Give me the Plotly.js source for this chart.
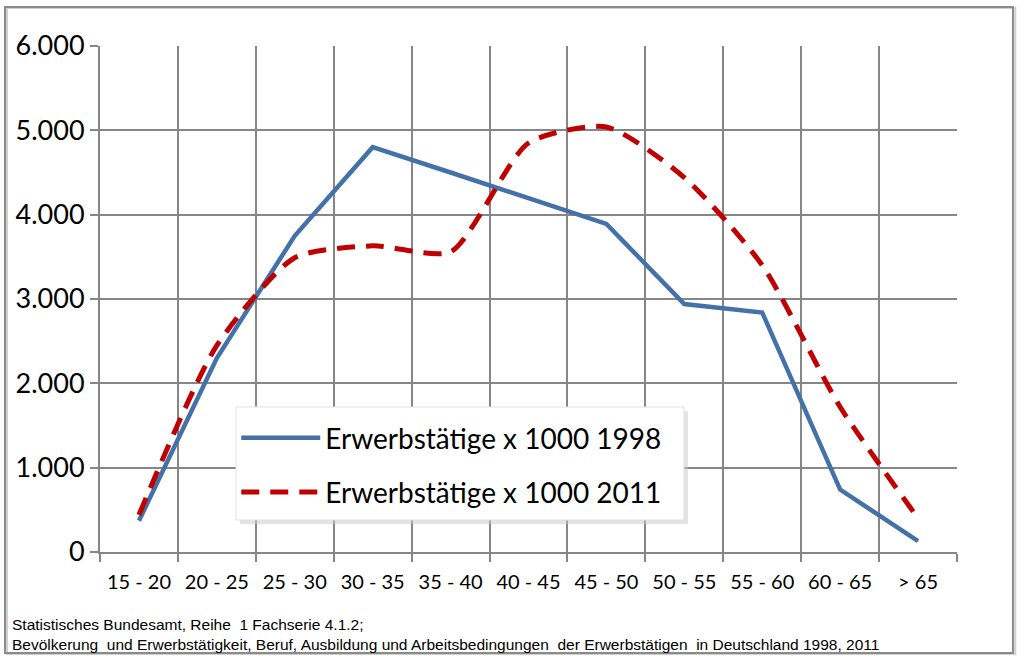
<!DOCTYPE html>
<html>
<head>
<meta charset="utf-8">
<script src="https://cdn.plot.ly/plotly-3.0.1.min.js"></script>
<style>html,body{margin:0;padding:0;background:#fff;}#chart{width:1024px;height:664px;}</style>
</head>
<body>
<div id="chart"></div>
<script>
var categories = ["15 - 20", "20 - 25", "25 - 30", "30 - 35", "35 - 40", "40 - 45", "45 - 50", "50 - 55", "55 - 60", "60 - 65", "> 65"];
var values1998 = [370, 2300, 3750, 4800, 4500, 4190, 3890, 2940, 2840, 740, 130];
var values2011 = [440, 2450, 3490, 3630, 3560, 4850, 5040, 4440, 3400, 1720, 400];
var name1998 = "Erwerbstätige x 1000 1998";
var name2011 = "Erwerbstätige x 1000 2011";
var yTicks = [0, 1000, 2000, 3000, 4000, 5000, 6000];
var sourceText = "Statistisches Bundesamt, Reihe  1 Fachserie 4.1.2;<br>Bevölkerung  und Erwerbstätigkeit, Beruf, Ausbildung und Arbeitsbedingungen  der Erwerbstätigen  in Deutschland 1998, 2011";

var gridCol = "#868686";
var traces = [
  {x: categories, y: values1998, name: name1998, type: "scatter", mode: "lines",
   legendgroup: "a", line: {color: "#4472A8", width: 4.5}},
  {x: categories, y: values2011, name: name2011, type: "scatter", mode: "lines",
   legendgroup: "b", line: {color: "#C00000", width: 5, dash: "18px,11px", shape: "spline", smoothing: 0.65}}
];

var layout = {
  width: 1024, height: 664,
  margin: {l: 100, r: 67, t: 46, b: 112},
  paper_bgcolor: "#fff", plot_bgcolor: "#fff",
  separators: ",.",
  showlegend: true,
  font: {family: "Lato, 'Open Sans', sans-serif", color: "#000"},
  xaxis: {
    type: "category", range: [-0.5, 10.5], tickson: "boundaries",
    showgrid: true, gridcolor: gridCol, gridwidth: 2,
    showline: true, linecolor: gridCol, linewidth: 2,
    ticks: "outside", ticklen: 8, tickwidth: 2, tickcolor: gridCol,
    tickfont: {size: 20, family: "Lato, sans-serif", color: "#000"},
    ticklabelstandoff: 11,
    zeroline: false, fixedrange: true
  },
  yaxis: {
    range: [0, 6000], tickvals: yTicks, tickformat: ",d",
    showgrid: true, gridcolor: gridCol, gridwidth: 2,
    showline: true, linecolor: gridCol, linewidth: 2,
    ticks: "outside", ticklen: 8, tickwidth: 2, tickcolor: gridCol,
    tickfont: {size: 27, family: "Lato, sans-serif", color: "#000"},
    ticklabelstandoff: 0,
    zeroline: false, fixedrange: true
  },
  legend: {
    x: 0.159, y: 0.2747, xanchor: "left", yanchor: "top",
    bgcolor: "rgba(0,0,0,0)", bordercolor: "rgba(0,0,0,0)", borderwidth: 0,
    font: {size: 28, family: "Lato, sans-serif", color: "#000"},
    traceorder: "grouped", tracegroupgap: 15, itemwidth: 79
  },
  shapes: [
    {type: "rect", xref: "paper", yref: "paper", x0: -0.1085, x1: 1.068, y0: -0.2016, y1: 1.0751,
     line: {color: "#d0d0d0", width: 2}, layer: "below"},
    {type: "rect", xref: "paper", yref: "paper", x0: -0.1109, x1: 1.0653, y0: -0.1996, y1: 1.0771,
     line: {color: "#8a8a8a", width: 2}, layer: "below"},
    {type: "rect", xref: "paper", yref: "paper", x0: 0.1634, x1: 0.6861, y0: 0.0553, y1: 0.2787,
     fillcolor: "#c8c8c8", line: {width: 0}, layer: "above", opacity: 0.5},
    {type: "rect", xref: "paper", yref: "paper", x0: 0.1587, x1: 0.6814, y0: 0.0632, y1: 0.2866,
     fillcolor: "#ffffff", line: {color: "#e2e2e2", width: 1}, layer: "above"}
  ],
  annotations: [
    {xref: "paper", yref: "paper", x: 0, y: -0.1225, xshift: -90, xanchor: "left", yanchor: "top",
     align: "left", showarrow: false, text: sourceText,
     font: {size: 15.5, family: "'Liberation Sans', Arial, sans-serif", color: "#000"}}
  ]
};

Plotly.newPlot("chart", traces, layout, {displayModeBar: false, staticPlot: true});
</script>
</body>
</html>
